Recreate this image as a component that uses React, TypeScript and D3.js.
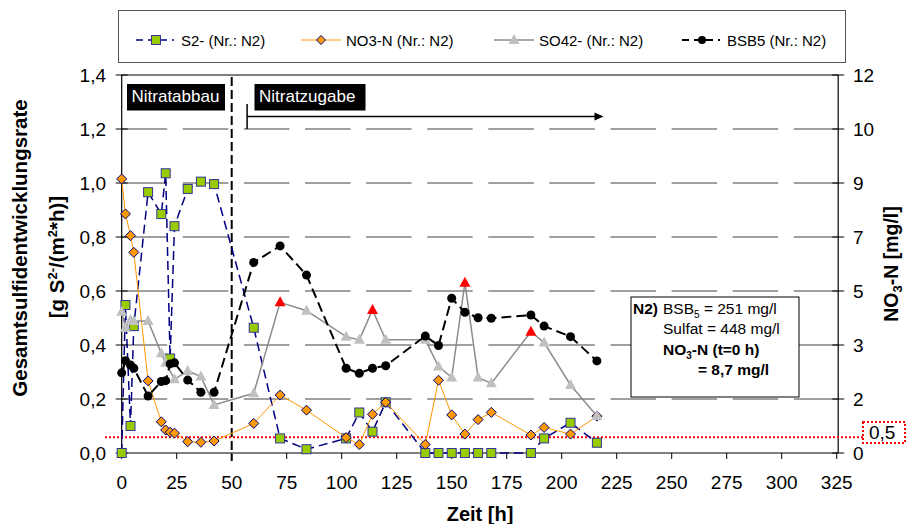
import React from "react";
import * as d3 from "d3";

// ---- data ----
const times = [0, 1.7, 4, 5.5, 12, 18, 20, 22, 24, 30, 36, 42, 60, 72, 84, 102, 108, 114, 120, 138, 144, 150, 156, 162, 168, 186, 192, 204, 216];
const s2 = [0, 0.548, 0.10, 0.47, 0.966, 0.885, 1.036, 0.35, 0.84, 0.978, 1.005, 0.996, 0.464, 0.054, 0.014, 0.054, 0.15, 0.079, 0.188, 0, 0, 0, 0, 0, 0, 0, 0.054, 0.112, 0.038];
const no3 = [8.7, 7.59, 6.9, 6.37, 2.29, 0.99, 0.73, 0.66, 0.63, 0.36, 0.34, 0.38, 0.94, 1.84, 1.36, 0.49, 0.27, 1.23, 1.61, 0.27, 2.31, 1.21, 0.6, 1.06, 1.29, 0.57, 0.81, 0.6, 1.17];
const so4 = [0.523, 0.464, 0.493, 0.489, 0.489, 0.369, 0.334, null, 0.273, 0.304, 0.283, 0.178, 0.221, 0.558, 0.527, 0.431, 0.419, 0.53, 0.419, 0.419, 0.32, 0.28, 0.631, 0.28, 0.258, 0.449, 0.409, 0.252, 0.137];
const so4RedTimes = [72, 114, 156, 186];
const bsb5 = [0.297, 0.342, 0.326, 0.314, 0.211, 0.265, 0.268, 0.33, 0.334, 0.27, 0.225, 0.225, 0.706, 0.767, 0.659, 0.314, 0.295, 0.314, 0.323, 0.433, 0.398, 0.573, 0.521, 0.501, 0.499, 0.511, 0.47, 0.431, 0.341];

const xTicks = [0, 25, 50, 75, 100, 125, 150, 175, 200, 225, 250, 275, 300, 325];
const yTicks = [0, 0.2, 0.4, 0.6, 0.8, 1.0, 1.2, 1.4];
const gridTicks = [0.2, 0.4, 0.6, 0.8, 1.0, 1.2];
const no3Limit = 0.5; // mg/l
const phaseSwitch = 50; // h
const arrowStart = 57;
const arrowEnd = 219;

const legendItems = ["S2- (Nr.: N2)", "NO3-N (Nr.: N2)", "SO42- (Nr.: N2)", "BSB5 (Nr.: N2)"];

const FONT = "'Liberation Sans', Arial, sans-serif";

export default function App() {
  const x = d3.scaleLinear().domain([0, 325]).range([121.7, 836.7]);
  const y = d3.scaleLinear().domain([0, 1.4]).range([453, 75]);
  const yR = d3.scaleLinear().domain([0, 12]).range([453, 75]);
  const fmt = (v: number) => d3.format(".1f")(v).replace(".", ",");

  const pts = (arr: (number | null)[], sc: (v: number) => number): { t: number; v: number; px: number; py: number }[] =>
    arr
      .map((v, i) => (v == null ? null : { t: times[i], v, px: x(times[i]), py: sc(v) }))
      .filter((d) => d != null) as any;

  const s2P = pts(s2, y);
  const no3P = pts(no3, yR);
  const so4P = pts(so4, y);
  const bsbP = pts(bsb5, y);

  const line = d3
    .line<{ px: number; py: number }>()
    .x((d) => d.px)
    .y((d) => d.py);

  const diamond = (cx: number, cy: number, r = 5) =>
    `M${cx},${cy - r}L${cx + r},${cy}L${cx},${cy + r}L${cx - r},${cy}Z`;
  const tri = (cx: number, cy: number) => `M${cx},${cy - 6}L${cx + 5.5},${cy + 4}L${cx - 5.5},${cy + 4}Z`;

  const xL = x(0);
  const xR = x(325);
  const yLim = yR(no3Limit);

  const legendX = [136, 301, 494, 682];
  const ly = 40;

  return (
    <svg
      width={906}
      height={524}
      style={{ position: "absolute", left: 0, top: 0, background: "#fff" }}
      fontFamily={FONT}
    >
      {/* legend */}
      <rect x={118.5} y={10.5} width={727} height={52} fill="#fff" stroke="#555" strokeWidth={1} />
      {legendItems.map((lab, i) => {
        const lx = legendX[i];
        const cx = lx + 20;
        return (
          <g key={lab}>
            {i === 0 && (
              <>
                <line x1={lx} x2={lx + 38} y1={ly} y2={ly} stroke="#000080" strokeWidth={1.5} strokeDasharray="7 5" />
                <rect x={cx - 4.5} y={ly - 4.5} width={9} height={9} fill="#99cc00" stroke="#333399" />
              </>
            )}
            {i === 1 && (
              <>
                <line x1={lx} x2={lx + 40} y1={ly} y2={ly} stroke="#ff9900" strokeWidth={1} />
                <path d={diamond(cx, ly, 4.5)} fill="#ff9900" stroke="#000080" />
              </>
            )}
            {i === 2 && (
              <>
                <line x1={lx} x2={lx + 40} y1={ly} y2={ly} stroke="#8c8c8c" strokeWidth={1.5} />
                <path d={tri(cx, ly)} fill="#c0c0c0" />
              </>
            )}
            {i === 3 && (
              <>
                <line x1={lx} x2={lx + 38} y1={ly} y2={ly} stroke="#000" strokeWidth={2} strokeDasharray="7 5" />
                <circle cx={cx} cy={ly} r={4} fill="#000" />
              </>
            )}
            <text x={lx + 45} y={ly + 5.5} fontSize={15}>
              {lab}
            </text>
          </g>
        );
      })}

      {/* grid lines */}
      {gridTicks.map((v) => (
        <line key={v} x1={xL} x2={xR + 2} y1={y(v)} y2={y(v)} stroke="#404040" strokeWidth={1} strokeDasharray="45.5 15.6" />
      ))}
      <line x1={xL} x2={xR + 1.5} y1={y(1.4)} y2={y(1.4)} stroke="#000" strokeWidth={1} />

      {/* axes */}
      <line x1={xL} x2={xL} y1={y(1.4)} y2={y(0)} stroke="#000" strokeWidth={1.2} />
      <line x1={xR + 1.5} x2={xR + 1.5} y1={y(1.4)} y2={y(0)} stroke="#000" strokeWidth={1.2} />
      <line x1={xL} x2={xR + 1.5} y1={y(0)} y2={y(0)} stroke="#000" strokeWidth={1.2} />

      {yTicks.map((v) => (
        <g key={"yl" + v}>
          <line x1={xL - 6} x2={xL + 6} y1={y(v)} y2={y(v)} stroke="#000" />
          <text x={106} y={y(v)} dy="0.35em" textAnchor="end" fontSize={19}>
            {fmt(v)}
          </text>
          <line x1={xR + 1.5 - 6} x2={xR + 1.5 + 6} y1={y(v)} y2={y(v)} stroke="#000" />
          <text x={853} y={y(v)} dy="0.35em" textAnchor="start" fontSize={19}>
            {Math.round(yR.invert(y(v)))}
          </text>
        </g>
      ))}
      {xTicks.map((t) => (
        <g key={"xt" + t}>
          <line x1={x(t)} x2={x(t)} y1={y(0)} y2={y(0) + 6} stroke="#000" />
          <text x={x(t)} y={489} textAnchor="middle" fontSize={19}>
            {t}
          </text>
        </g>
      ))}

      {/* axis titles */}
      <text x={480} y={521} textAnchor="middle" fontSize={20} fontWeight="bold">
        Zeit [h]
      </text>
      <text transform="translate(27,248) rotate(-90)" textAnchor="middle" fontSize={20.5} fontWeight="bold">
        Gesamtsulfidentwicklungsrate
      </text>
      <text transform="translate(64,257) rotate(-90)" textAnchor="middle" fontSize={20.5} fontWeight="bold">
        [g S<tspan dy="-7" fontSize={13}>2-</tspan>
        <tspan dy="7">/(m</tspan>
        <tspan dy="-7" fontSize={13}>2</tspan>
        <tspan dy="7">*h)]</tspan>
      </text>
      <text transform="translate(898,264) rotate(-90)" textAnchor="middle" fontSize={19.5} fontWeight="bold">
        NO<tspan dy="4" fontSize={13}>3</tspan>
        <tspan dy="-4">-N [mg/l]</tspan>
      </text>

      {/* phase separator & labels */}
      <line x1={x(phaseSwitch)} x2={x(phaseSwitch)} y1={77} y2={461} stroke="#000" strokeWidth={2} strokeDasharray="9 4" />
      <rect x={127} y={84} width={98} height={26.5} fill="#000" />
      <text x={131.5} y={101.5} fill="#fff" fontSize={17}>
        Nitratabbau
      </text>
      <rect x={254.5} y={84} width={111} height={26.5} fill="#000" />
      <text x={259} y={101.5} fill="#fff" fontSize={17}>
        Nitratzugabe
      </text>
      <line x1={x(arrowStart)} x2={x(arrowStart)} y1={104} y2={129} stroke="#000" strokeWidth={1.5} />
      <line x1={x(arrowStart)} x2={x(arrowEnd) - 6} y1={116.5} y2={116.5} stroke="#000" strokeWidth={1.5} />
      <path d={`M${x(arrowEnd)},116.5L${x(arrowEnd) - 9},112.5L${x(arrowEnd) - 9},120.5Z`} fill="#000" />

      {/* limit line */}
      <line x1={105} x2={863} y1={yLim} y2={yLim} stroke="#ff0000" strokeWidth={2} strokeDasharray="2 2" />
      <rect x={863} y={422} width={42} height={21} fill="none" stroke="#ff0000" strokeWidth={2} strokeDasharray="2 2" />
      <text x={869} y={432.5} dy="0.35em" fontSize={19}>
        0,5
      </text>

      {/* S2- */}
      <path d={line(s2P) || ""} fill="none" stroke="#000080" strokeWidth={1.5} strokeDasharray="9 5" />
      {s2P.map((d, i) => (
        <rect key={"s" + i} x={d.px - 4.5} y={d.py - 4.5} width={9} height={9} fill="#99cc00" stroke="#333399" strokeWidth={1} />
      ))}

      {/* NO3-N */}
      <path d={line(no3P) || ""} fill="none" stroke="#ff9900" strokeWidth={1} />
      {no3P.map((d, i) => (
        <path key={"n" + i} d={diamond(d.px, d.py, 5)} fill="#ff9900" stroke="#000080" strokeWidth={1} />
      ))}

      {/* SO42- */}
      <path d={line(so4P) || ""} fill="none" stroke="#8c8c8c" strokeWidth={1.5} />
      {so4P.map((d, i) => (
        <path key={"o" + i} d={tri(d.px, d.py)} fill={so4RedTimes.includes(d.t) ? "#ff0000" : "#c0c0c0"} />
      ))}

      {/* BSB5 */}
      <path d={line(bsbP) || ""} fill="none" stroke="#000" strokeWidth={2} strokeDasharray="10 5" />
      {bsbP.map((d, i) => (
        <circle key={"b" + i} cx={d.px} cy={d.py} r={4.5} fill="#000" />
      ))}

      {/* annotation box */}
      <rect x={631} y={297} width={168} height={100} fill="#fff" stroke="#000" strokeWidth={1} />
      <text x={633} y={313.5} fontSize={15.5}>
        <tspan fontWeight="bold">N2)</tspan>
        <tspan x={663}>BSB</tspan>
        <tspan dy="4" fontSize={10}>5</tspan>
        <tspan dy="-4"> = 251 mg/l</tspan>
      </text>
      <text x={663} y={334} fontSize={15.5}>
        Sulfat = 448 mg/l
      </text>
      <text x={663} y={354.5} fontSize={15.5} fontWeight="bold">
        NO<tspan dy="4" fontSize={10}>3</tspan>
        <tspan dy="-4">-N (t=0 h)</tspan>
      </text>
      <text x={698} y={374.5} fontSize={15.5} fontWeight="bold">
        = 8,7 mg/l
      </text>
    </svg>
  );
}
